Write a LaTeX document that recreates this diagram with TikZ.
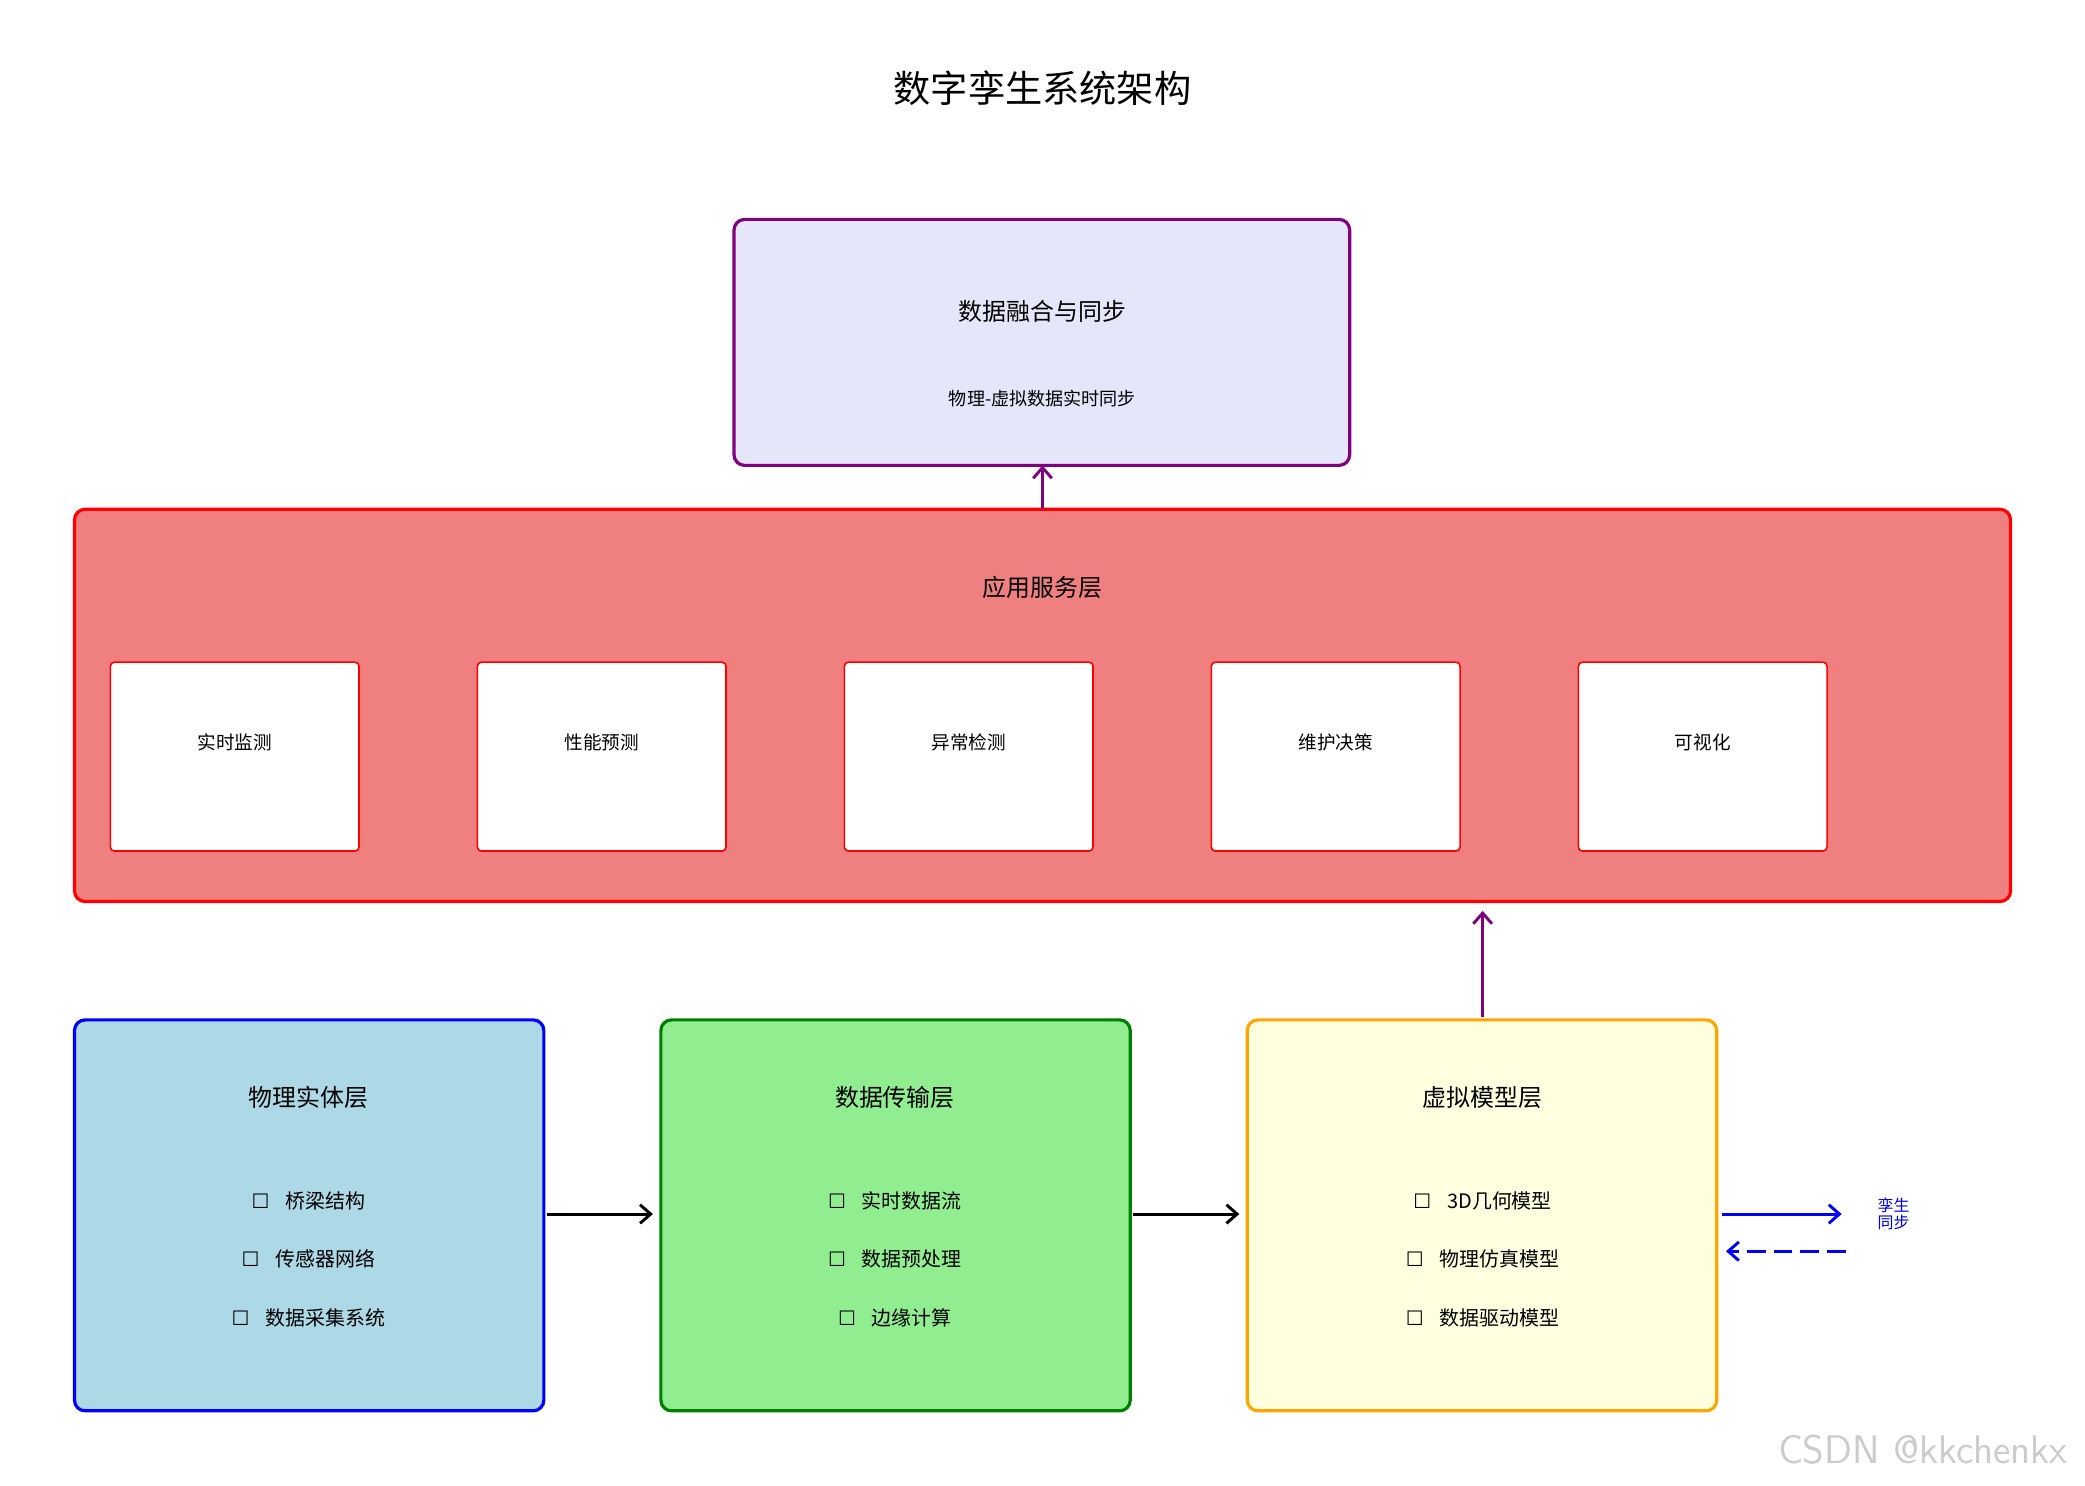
\documentclass[tikz,border=0pt]{standalone}
\usepackage{fontspec}
\setmainfont{Noto Sans CJK SC}
\newfontfamily\dv{DejaVu Sans}
\usetikzlibrary{arrows.meta}
\definecolor{lav}{HTML}{E6E6FA}
\definecolor{lcoral}{HTML}{F08080}
\definecolor{lblue}{HTML}{ADD8E6}
\definecolor{lgreen}{HTML}{90EE90}
\definecolor{lyellow}{HTML}{FFFFE0}
\definecolor{orng}{HTML}{FFA500}
\definecolor{dgreen}{HTML}{008000}
\definecolor{purp}{HTML}{800080}
\newcommand{\cb}{{\dv\char"2610}\hspace{0.8em}}
\begin{document}
\begin{tikzpicture}[x=0.5pt,y=-0.5pt,
  box/.style={rounded corners=4pt,line width=1.2pt},
  sub/.style={draw=red,fill=white,rounded corners=1.5pt,line width=0.6pt},
  ttl/.style={font=\fontsize{9}{11}\selectfont},
  itm/.style={font=\fontsize{7.5}{9}\selectfont},
  arr/.style={-{Straight Barb[length=4pt,width=7pt]},line width=1.1pt}]
\useasboundingbox (0,0) rectangle (1568,1117);
\node[font=\fontsize{14}{16}\selectfont] (title) at (784,66) {数字孪生系统架构};
\draw[box,draw=purp,fill=lav] (552,165) rectangle (1015,350);
\coordinate (fb) at (784,350);
\node[ttl] (ft) at (784,234) {数据融合与同步};
\node[font=\fontsize{6.8}{8}\selectfont] (fs) at (784,300) {物理-虚拟数据实时同步};
\draw[box,draw=red,fill=lcoral] (56,383) rectangle (1512,678);
\coordinate (at) at (784,383);
\node[ttl] (atl) at (784,442) {应用服务层};
\foreach \x/\t/\n in {83/实时监测/s1,359/性能预测/s2,635/异常检测/s3,911/维护决策/s4,1187/可视化/s5}{
  \draw[sub] (\x,498) rectangle (\x+187,640);
  \node[font=\fontsize{7}{8}\selectfont] (\n) at (\x+93.5,558) {\t};
}
\draw[box,draw=blue,fill=lblue] (56,767) rectangle (409,1061);
\draw[box,draw=dgreen,fill=lgreen] (497,767) rectangle (850,1061);
\draw[box,draw=orng,fill=lyellow] (938,767) rectangle (1291,1061);
\node[ttl] (p) at (232,825) {物理实体层};
\node[ttl] (d) at (673,825) {数据传输层};
\node[ttl] (v) at (1115,825) {虚拟模型层};
\node[itm] at (232,903) {\cb 桥梁结构};
\node[itm] at (232,947) {\cb 传感器网络};
\node[itm] at (232,991) {\cb 数据采集系统};
\node[itm] at (673,903) {\cb 实时数据流};
\node[itm] at (673,947) {\cb 数据预处理};
\node[itm] at (673,991) {\cb 边缘计算};
\node[itm] at (1115,903) {\cb 3D几何模型};
\node[itm] at (1115,947) {\cb 物理仿真模型};
\node[itm] at (1115,991) {\cb 数据驱动模型};
\coordinate (pr) at (411,913); \coordinate (dl) at (491,913);
\coordinate (dr) at (852,913); \coordinate (vl) at (932,913);
\coordinate (vt) at (1115,765); \coordinate (ab) at (1115,685);
\draw[arr,black] (pr) -- (dl);
\draw[arr,black] (dr) -- (vl);
\draw[arr,purp] (vt) -- (ab);
\draw[arr,purp] (at) -- (fb);
\coordinate (b1) at (1295,913); \coordinate (b2) at (1385,913);
\coordinate (b3) at (1388,941); \coordinate (b4) at (1298,941);
\draw[arr,blue] (b1) -- (b2);
\draw[arr,blue,dash pattern=on 7pt off 3pt] (b3) -- (b4);
\node[blue,align=left,font=\fontsize{6}{6.5}\selectfont] (lg) at (1424,913) {孪生\\同步};
\node[gray!40,font=\fontsize{15}{16}\selectfont\sffamily] (wm) at (1446,1090) {CSDN @kkchenkx};
\end{tikzpicture}
\end{document}
